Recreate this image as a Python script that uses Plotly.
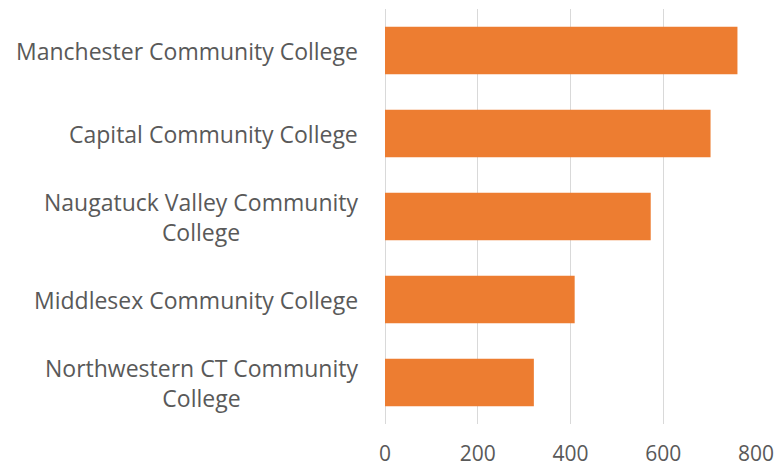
import plotly.graph_objects as go

categories = [
    "Manchester Community College",
    "Capital Community College",
    "Naugatuck Valley Community<br>College",
    "Middlesex Community College",
    "Northwestern CT Community<br>College",
]
values = [760, 702, 573, 409, 321]
x_ticks = [0, 200, 400, 600, 800]

FONT = "Open Sans"
GRAY = "#595959"
FS = 23
TICK_FS = 21

fig = go.Figure(go.Bar(
    x=values,
    y=categories,
    orientation="h",
    marker=dict(color="#ED7D31", line=dict(width=0)),
))

fig.update_layout(
    width=778, height=468,
    margin=dict(l=385, r=22, t=9, b=44, autoexpand=False),
    paper_bgcolor="white", plot_bgcolor="white",
    bargap=0.427,
    showlegend=False,
    font=dict(family=FONT, color=GRAY, size=FS),
)
fig.update_xaxes(
    range=[0, 800], tickvals=x_ticks, ticktext=[str(v) for v in x_ticks],
    showgrid=True, gridcolor="#d9d9d9", gridwidth=1,
    zeroline=True, zerolinecolor="#d9d9d9", zerolinewidth=1,
    showline=False, ticks="", tickfont=dict(size=TICK_FS, color=GRAY),
    ticklabelstandoff=15, automargin=False,
    fixedrange=True,
)
fig.update_yaxes(
    categoryorder="array", categoryarray=categories[::-1],
    showticklabels=False, showgrid=False, zeroline=False, showline=False,
    automargin=False,
)

for c in categories:
    fig.add_annotation(
        x=0, xref="paper", y=c, yref="y",
        text=c, showarrow=False, xanchor="right", yanchor="middle",
        align="center", xshift=-25,
        font=dict(family=FONT, size=FS, color=GRAY),
    )

fig.write_html(
    "out.html",
    config={"displayModeBar": False},
    post_script="document.body.style.margin='0';document.body.style.overflow='hidden';",
)
